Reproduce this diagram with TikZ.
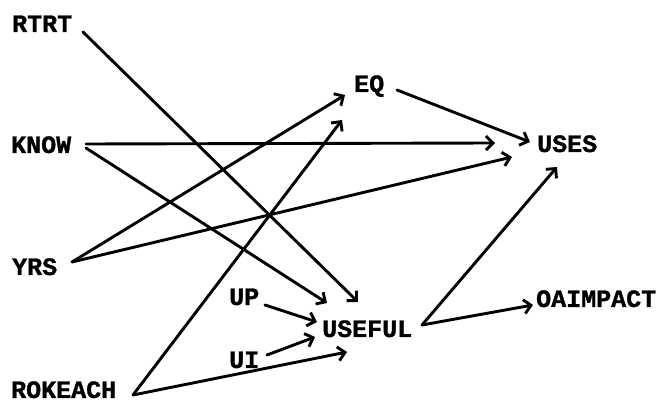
\documentclass[tikz,border=0pt]{standalone}
\usepackage{fontspec}
\newfontfamily\lblfont[FakeBold=1.2]{Liberation Mono Bold}
\usetikzlibrary{arrows.meta,calc}
\tikzset{
  lbl/.style={anchor=base west, inner sep=0pt, font=\lblfont\fontsize{25}{25}\selectfont},
  conn/.style={line width=2.9pt, line cap=round, -{Straight Barb[length=7pt,width=14pt,line width=2.9pt]}}
}
\begin{document}
\begin{tikzpicture}[x=1pt,y=-1pt]
\useasboundingbox (0,0) rectangle (662,403);
\node[lbl] (rtrt) at (12,32) {RTRT};
\node[lbl] (know) at (11,153) {KNOW};
\node[lbl] (yrs) at (12,275) {YRS};
\node[lbl] (rok) at (11,398) {ROKEACH};
\node[lbl] (eq) at (354,92) {EQ};
\node[lbl] (uses) at (537,152) {USES};
\node[lbl] (up) at (229,305) {UP};
\node[lbl] (ui) at (229,368) {UI};
\node[lbl] (useful) at (322,337) {USEFUL};
\node[lbl] (oai) at (536,307) {OAIMPACT};
% connectors
\draw[conn] ($(rtrt.base west)+(71,0)$) -- ($(useful.base west)+(36,-35)$);
\draw[conn] ($(know.base west)+(75,-9)$) -- ($(uses.base west)+(-42,-9)$);
\draw[conn] ($(know.base west)+(75,-5)$) -- ($(useful.base west)+(5,-34)$);
\draw[conn] ($(yrs.base west)+(60,-13)$) -- ($(eq.base west)+(-9,3)$);
\draw[conn] ($(yrs.base west)+(60,-13)$) -- ($(uses.base west)+(-25,5)$);
\draw[conn] ($(rok.base west)+(122,-3)$) -- ($(eq.base west)+(-12,28)$);
\draw[conn] ($(rok.base west)+(122,-3)$) -- ($(useful.base west)+(25,15)$);
\draw[conn] ($(eq.base west)+(43,-2)$) -- ($(uses.base west)+(-7,-10)$);
\draw[conn] ($(up.base west)+(36,0)$) -- ($(useful.base west)+(-5,-15)$);
\draw[conn] ($(ui.base west)+(38,-13)$) -- ($(useful.base west)+(-7,0)$);
\draw[conn] ($(useful.base west)+(100,-12)$) -- ($(uses.base west)+(20,15)$);
\draw[conn] ($(useful.base west)+(100,-12)$) -- ($(oai.base west)+(-3,-2)$);
\end{tikzpicture}
\end{document}
